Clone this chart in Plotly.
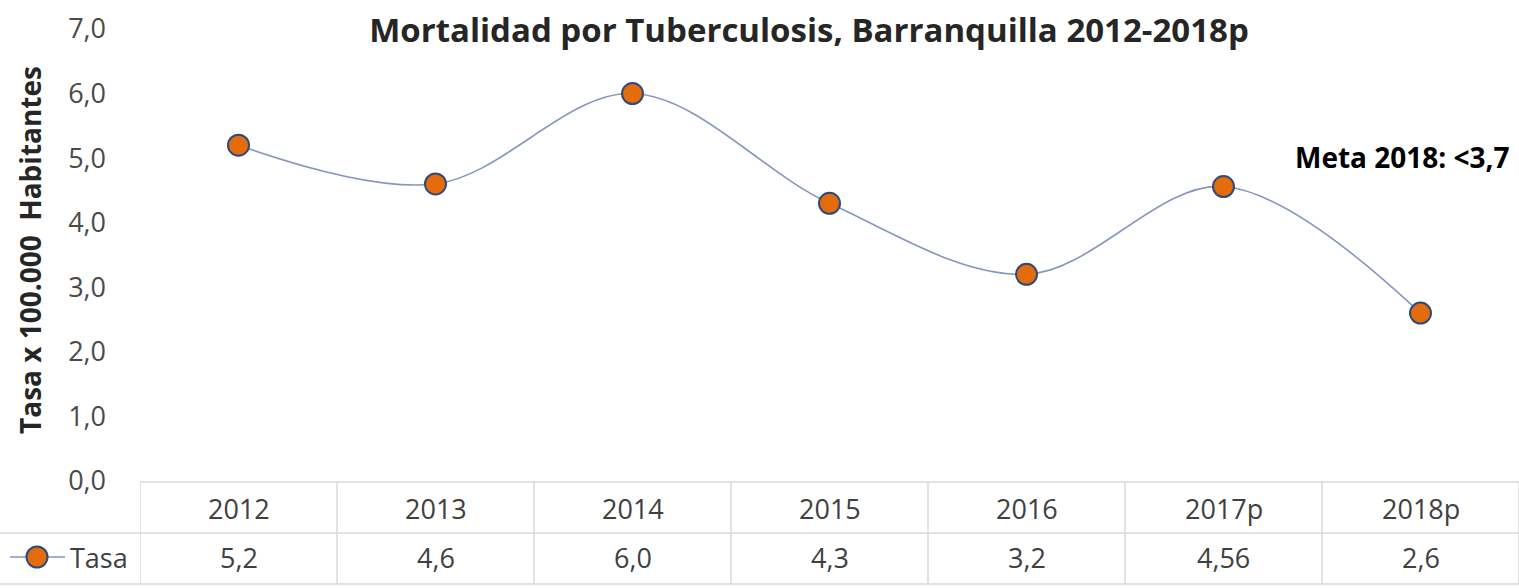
import plotly.graph_objects as go

years = ["2012", "2013", "2014", "2015", "2016", "2017p", "2018p"]
tasa = [5.2, 4.6, 6.0, 4.3, 3.2, 4.56, 2.6]
y_ticks = [0, 1, 2, 3, 4, 5, 6, 7]
series_name = "Tasa"
title_text = "Mortalidad por Tuberculosis, Barranquilla 2012-2018p"
y_title = "Tasa x 100.000  Habitantes"
meta_text = "Meta 2018: &lt;3,7"

W, H = 1519, 588
L, R, T, B = 140, 0, 29, 107
PW, PH = W - L - R, H - T - B

def px(x):
    return (x - L) / PW

def py(y):
    return (H - B - y) / PH

FONT = "Open Sans"
GRID = "#d9d9d9"
TXT = "#404040"
FS = 27

fig = go.Figure()
fig.add_trace(go.Scatter(
    x=years, y=tasa, mode="lines+markers", name=series_name,
    line=dict(shape="spline", smoothing=1.0, color="#8596c0", width=1.6),
    marker=dict(size=21, color="#E46C0A", line=dict(color="#2E4A7D", width=2)),
    showlegend=False, cliponaxis=False,
))

shapes = []
for yy, x0 in [(482, L), (533, 0), (584, 0)]:
    shapes.append(dict(type="line", xref="paper", yref="paper",
                       x0=px(x0), x1=1, y0=py(yy), y1=py(yy),
                       line=dict(color=GRID, width=1.5)))
for i in range(len(years) + 1):
    shapes.append(dict(type="line", xref="x", yref="paper",
                       x0=i - 0.5, x1=i - 0.5, y0=py(482), y1=py(584),
                       line=dict(color=GRID, width=1.5)))
shapes.append(dict(type="line", xref="paper", yref="paper",
                   x0=px(10), x1=px(65), y0=py(557), y1=py(557),
                   line=dict(color="#8596c0", width=1.6)))
r = 10.5
shapes.append(dict(type="circle", xref="paper", yref="paper",
                   x0=px(37 - r), x1=px(37 + r), y0=py(557 + r), y1=py(557 - r),
                   fillcolor="#E46C0A", line=dict(color="#2E4A7D", width=2)))

annotations = []
for i, (yr, v) in enumerate(zip(years, tasa)):
    annotations.append(dict(x=i, xref="x", y=py(508), yref="paper", text=yr,
                            showarrow=False, font=dict(family=FONT, size=FS, color=TXT),
                            xanchor="center", yanchor="middle"))
    annotations.append(dict(x=i, xref="x", y=py(557), yref="paper",
                            text=str(v).replace(".", ","),
                            showarrow=False, font=dict(family=FONT, size=FS, color=TXT),
                            xanchor="center", yanchor="middle"))
annotations.append(dict(x=px(68), xref="paper", y=py(557), yref="paper", text=series_name,
                        showarrow=False, font=dict(family=FONT, size=FS, color=TXT),
                        xanchor="left", yanchor="middle"))
annotations.append(dict(x=px(30), xref="paper", y=py(250), yref="paper", text="<b>" + y_title + "</b>",
                        textangle=-90, showarrow=False,
                        font=dict(family=FONT, size=28, color="#262626"),
                        xanchor="center", yanchor="middle"))
annotations.append(dict(x=px(1512), xref="paper", y=py(157), yref="paper", text="<b>" + meta_text + "</b>",
                        showarrow=False, font=dict(family=FONT, size=28, color="#000000"),
                        xanchor="right", yanchor="middle"))

fig.update_layout(
    width=W, height=H,
    margin=dict(l=L, r=R, t=T, b=B),
    paper_bgcolor="white", plot_bgcolor="white",
    separators=",.",
    title=dict(text="<b>" + title_text + "</b>", x=px(809), xref="paper", xanchor="center",
               y=1 - 30 / H, yref="container", yanchor="middle",
               font=dict(family=FONT, size=33, color="#262626")),
    xaxis=dict(type="category", categoryorder="array", categoryarray=years,
               range=[-0.5, len(years) - 0.5], showticklabels=False,
               showgrid=False, zeroline=False, showline=False, ticks=""),
    yaxis=dict(range=[0, 7], tickvals=y_ticks, tickformat=".1f",
               showgrid=False, zeroline=False, showline=False, ticks="",
               ticklabelstandoff=33,
               tickfont=dict(family=FONT, size=FS, color="#4a4a4a")),
    shapes=shapes, annotations=annotations,
)

fig.write_html("out.html", config={"displayModeBar": False},
               post_script="document.body.style.margin='0';document.body.style.overflow='hidden';")
